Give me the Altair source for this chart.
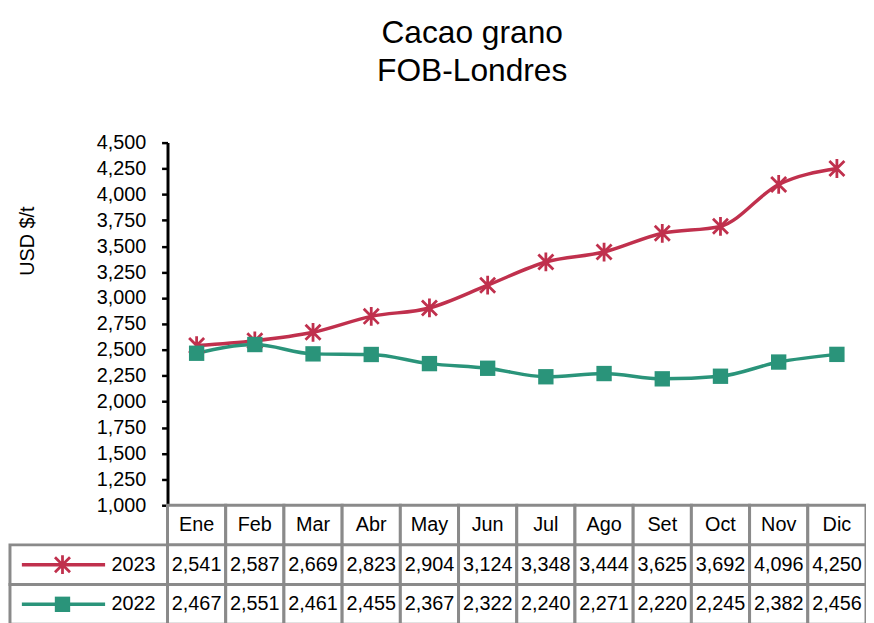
import altair as alt
import pandas as pd

months = ["Ene", "Feb", "Mar", "Abr", "May", "Jun", "Jul", "Ago", "Set", "Oct", "Nov", "Dic"]
years = ["2023", "2022"]
v2023 = [2541, 2587, 2669, 2823, 2904, 3124, 3348, 3444, 3625, 3692, 4096, 4250]
v2022 = [2467, 2551, 2461, 2455, 2367, 2322, 2240, 2271, 2220, 2245, 2382, 2456]
colors = ["#C0304D", "#2A947A"]
header_key = "Mes"

FONT = "Liberation Sans"

series = {"2023": v2023, "2022": v2022}
df = pd.DataFrame(
    [{"month": m, "year": y, "value": series[y][i]} for y in years for i, m in enumerate(months)]
)

cells = [{"month": m, "row": header_key, "label": m} for m in months]
for y in years:
    for i, m in enumerate(months):
        cells.append({"month": m, "row": y, "label": f"{series[y][i]:,}"})
cells_df = pd.DataFrame(cells)
legend_df = pd.DataFrame({"row": years, "label": years})

W, H = 705, 482
PLOT_H = 366

xscale = alt.Scale(type="band", domain=months, range=[0, W], paddingInner=0, paddingOuter=0)
yscale = alt.Scale(domain=[1000, 4500], range=[PLOT_H, 0], nice=False, zero=False)
rscale = alt.Scale(type="band", domain=[header_key] + years, range=[PLOT_H, PLOT_H + 120],
                   paddingInner=0, paddingOuter=0)
cscale = alt.Scale(domain=years, range=colors)

yaxis = alt.Axis(
    values=list(range(1000, 4501, 250)), format=",d", grid=False,
    labelFont=FONT, labelFontSize=20, labelColor="black", labelPadding=16,
    tickColor="black", tickSize=6, tickWidth=2.5, domainColor="black", domainWidth=3,
    title="USD $/t", titleFont=FONT, titleFontSize=20, titleFontWeight="normal",
    titleColor="black", titleX=-141, titleY=99, titleAngle=-90,
    titleAlign="center", titleBaseline="middle",
)

base = alt.Chart(df)
xenc = alt.X("month:N", scale=xscale, axis=None, bandPosition=0.5, sort=months)

lines = base.mark_line(strokeWidth=3.5, interpolate="monotone").encode(
    x=xenc,
    y=alt.Y("value:Q", scale=yscale, axis=yaxis),
    color=alt.Color("year:N", scale=cscale, legend=None),
    detail="year:N",
)

star = "M-1,-1L1,1M-1,1L1,-1M0,-1.25L0,1.25"
pts23 = base.transform_filter(alt.datum.year == "2023").mark_point(
    shape=star, size=230, filled=False, strokeWidth=2.8, color=colors[0], opacity=1
).encode(x=xenc, y=alt.Y("value:Q", scale=yscale, axis=None))
pts22 = base.transform_filter(alt.datum.year == "2022").mark_point(
    shape="square", size=240, filled=True, color=colors[1], opacity=1
).encode(x=xenc, y=alt.Y("value:Q", scale=yscale, axis=None))

tbase = alt.Chart(cells_df)
cell_rects = tbase.mark_rect(fill="white", stroke="#8a8a8a", strokeWidth=3).encode(
    x=alt.X("month:N", scale=xscale, axis=None, sort=months),
    y=alt.Y("row:N", scale=rscale, axis=None),
)
cell_text = tbase.mark_text(font=FONT, fontSize=20, color="black", baseline="middle").encode(
    x=xenc,
    y=alt.Y("row:N", scale=rscale, axis=None, bandPosition=0.5),
    text="label:N",
)

lbase = alt.Chart(legend_df)
leg_rects = lbase.mark_rect(fill="white", stroke="#8a8a8a", strokeWidth=3).encode(
    x=alt.value(-159), x2=alt.value(0),
    y=alt.Y("row:N", scale=rscale, axis=None),
)
leg_lines = lbase.mark_rule(strokeWidth=3.5).encode(
    x=alt.value(-147), x2=alt.value(-63),
    y=alt.Y("row:N", scale=rscale, axis=None, bandPosition=0.5),
    color=alt.Color("row:N", scale=cscale, legend=None),
)
leg_star = lbase.transform_filter(alt.datum.row == "2023").mark_point(
    shape=star, size=230, filled=False, strokeWidth=2.8, color=colors[0], opacity=1
).encode(x=alt.value(-106), y=alt.Y("row:N", scale=rscale, axis=None, bandPosition=0.5))
leg_sq = lbase.transform_filter(alt.datum.row == "2022").mark_point(
    shape="square", size=240, filled=True, color=colors[1], opacity=1
).encode(x=alt.value(-106), y=alt.Y("row:N", scale=rscale, axis=None, bandPosition=0.5))
leg_text = lbase.mark_text(font=FONT, fontSize=20, color="black", align="right", baseline="middle").encode(
    x=alt.value(-12),
    y=alt.Y("row:N", scale=rscale, axis=None, bandPosition=0.5),
    text="label:N",
)

chart = alt.layer(
    lines, pts23, pts22, cell_rects, cell_text, leg_rects, leg_lines, leg_star, leg_sq, leg_text
).resolve_scale(y="independent", color="independent").properties(
    width=W, height=H,
    autosize="none",
    padding={"left": 161, "top": 133, "right": 0, "bottom": 0},
    title=alt.TitleParams(
        text=["Cacao grano", "FOB-Londres"], font=FONT, fontSize=32, fontWeight="normal",
        color="black", anchor="middle", dx=-45, offset=13, lineHeight=39, baseline="bottom",
    ),
).configure_view(stroke=None)

chart.save("out.html", embed_options={"renderer": "svg", "actions": False})
